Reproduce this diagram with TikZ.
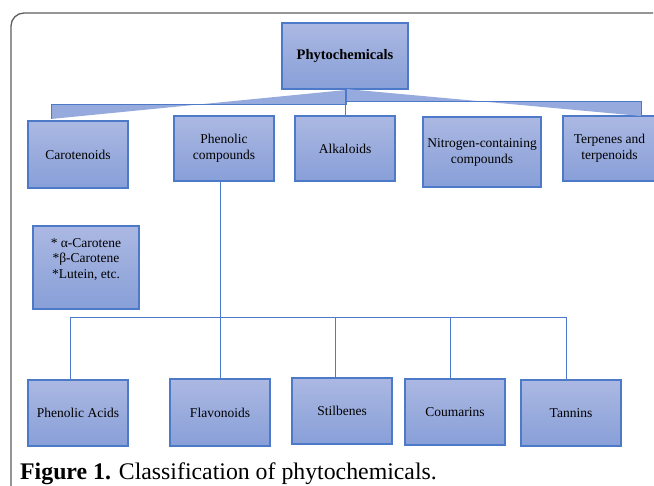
\documentclass[tikz,border=0pt]{standalone}
\usepackage{fontspec}
\setmainfont{Liberation Serif}
\definecolor{bfillA}{RGB}{171,184,226}
\definecolor{bfillB}{RGB}{136,159,216}
\definecolor{bline}{RGB}{76,122,200}
\definecolor{tiefill}{RGB}{150,170,222}
\definecolor{framec}{RGB}{95,95,95}
\tikzset{
  box/.style={draw=bline, line width=1.1pt, top color=bfillA, bottom color=bfillB,
    inner sep=0pt, align=center, font=\fontsize{13.5}{16}\selectfont},
  boxtext/.style={inner sep=0pt, align=center, font=\fontsize{13.5}{15.5}\selectfont},
  conn/.style={draw=bline, line width=0.9pt},
  tie/.style={fill=tiefill, draw=none},
  tieedge/.style={draw=bline, line width=1pt},
}
\begin{document}
\begin{tikzpicture}[x=1pt,y=-1pt]
\useasboundingbox (0,0) rectangle (654,486);
\fill[white] (0,0) rectangle (654,486);
% frame
\draw[framec, line width=1.3pt] (11,490) -- (11,26) arc[start angle=180, end angle=270, radius=13] -- (653,13);
% level 0
\node[box, minimum width=126, minimum height=66, font=\bfseries\fontsize{14.5}{16}\selectfont] (phy) at (345,56) {Phytochemicals};
% level 1
\node[box, minimum width=100, minimum height=67] (car) at (78,154.5) {Carotenoids};
\node[box, minimum width=100, minimum height=65] (pc) at (224,148.5) {Phenolic\\compounds};
\node[box, minimum width=100, minimum height=65] (alk) at (345,148.5) {Alkaloids};
\node[box, minimum width=118, minimum height=70] (nit) at (482,152) {Nitrogen-containing\\compounds};
\node[box, minimum width=93, minimum height=65] (ter) at (609.5,148.5) {Terpenes and\\terpenoids};
% carotene list
\node[box, minimum width=106, minimum height=83] (cl) at (86,267.5) {};
\node[boxtext] (cltxt) at (86,259.5) {* α-Carotene\\*β-Carotene\\*Lutein, etc.};
% level 2
\node[box, minimum width=100, minimum height=66] (pa) at (78,413) {Phenolic Acids};
\node[box, minimum width=100, minimum height=67] (fla) at (220,412.5) {Flavonoids};
\node[box, minimum width=100, minimum height=66] (sti) at (342,411) {Stilbenes};
\node[box, minimum width=100, minimum height=66] (cou) at (455,412) {Coumarins};
\node[box, minimum width=100, minimum height=66] (tan) at (571,413) {Tannins};
% bow-tie connectors from Phytochemicals
\coordinate (la) at (51,105); \coordinate (lb) at (51,119);
\coordinate (lc) at (346,90); \coordinate (ld) at (346,105);
\fill[tie] (la) -- (lb) -- (lc) -- (ld) -- cycle;
\draw[tieedge] (lb) -- (la) -- (ld) -- (lc);
\coordinate (rp) at (346,89); \coordinate (rq) at (346,102);
\coordinate (rr) at (641,102); \coordinate (rs) at (641,116);
\fill[tie] (rp) -- (rs) -- (rr) -- (rq) -- cycle;
\draw[tieedge] (rs) -- (rr) -- (rq) -- (rp);
\draw[conn] (phy.south) -- (alk.north);
% phenolic tree
\coordinate (bus) at (220,317);
\coordinate (busl) at (70,317);
\coordinate (busr) at (566,317);
\draw[conn] (pc.south -| bus) -- (bus);
\draw[conn] (busl) -- (busr);
\draw[conn] (busl) -- (pa.north -| busl);
\draw[conn] (bus) -- (fla.north -| bus);
\coordinate (b3) at (335,317);
\coordinate (b4) at (450,317);
\draw[conn] (b3) -- (sti.north -| b3);
\draw[conn] (b4) -- (cou.north -| b4);
\draw[conn] (busr) -- (tan.north -| busr);
% caption
\node[anchor=base west, inner sep=0pt, font=\fontsize{23.8}{27}\selectfont] (cap) at (20,479) {\textbf{Figure 1.} Classification of phytochemicals.};
\end{tikzpicture}
\end{document}
